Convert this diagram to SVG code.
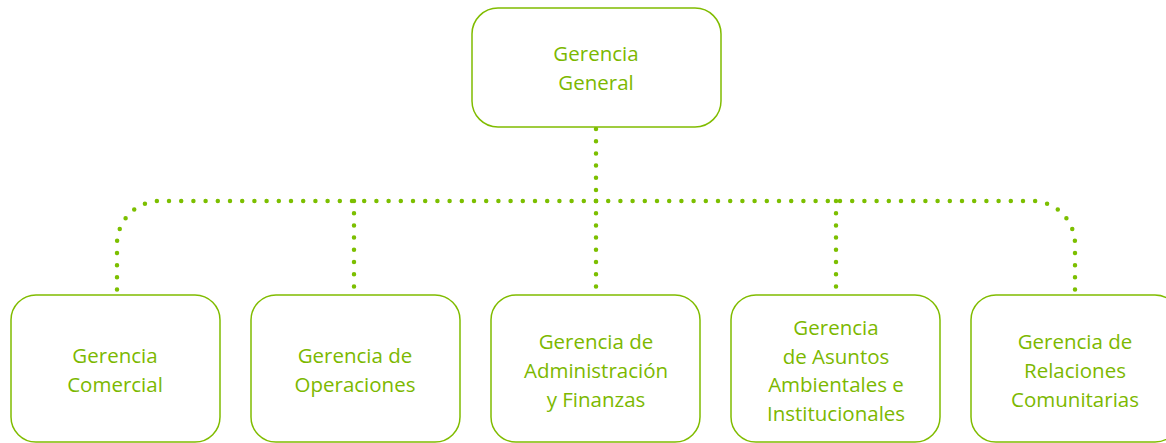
<svg xmlns="http://www.w3.org/2000/svg" width="1166" height="443" viewBox="0 0 1166 443">
<style>
.box{fill:#fff;stroke:#80bc00;stroke-width:1.5}
.t{font-family:"Open Sans","Liberation Sans",sans-serif;font-size:20.5px;fill:#7cb800;text-anchor:middle}
.c{fill:none;stroke:#7cbf00;stroke-width:4.5;stroke-linecap:round;stroke-dasharray:0 12.2}
</style>
<rect width="1166" height="443" fill="#fff"/>
<g id="connectors">
<path class="c" d="M596,129 V201"/>
<path class="c" d="M596,201 H160 A43,43 0 0 0 117,244 V293"/>
<path class="c" d="M596,201 H1032 A43,43 0 0 1 1075,244 V293"/>
<path class="c" d="M354,201 V293"/>
<path class="c" d="M596,201 V293"/>
<path class="c" d="M836,201 V293"/>
</g>
<g id="n0"><rect class="box" x="472" y="8" width="249" height="119" rx="26"/>
<text class="t" x="596" y="61">Gerencia</text><text class="t" x="596" y="90">General</text></g>
<g id="n1"><rect class="box" x="11" y="295" width="209" height="147" rx="25"/>
<text class="t" x="115" y="363">Gerencia</text><text class="t" x="115" y="392">Comercial</text></g>
<g id="n2"><rect class="box" x="251" y="295" width="209" height="147" rx="25"/>
<text class="t" x="355" y="363">Gerencia de</text><text class="t" x="355" y="392">Operaciones</text></g>
<g id="n3"><rect class="box" x="491" y="295" width="209" height="147" rx="25"/>
<text class="t" x="596" y="349">Gerencia de</text><text class="t" x="596" y="378">Administración</text><text class="t" x="596" y="407">y Finanzas</text></g>
<g id="n4"><rect class="box" x="731" y="295" width="209" height="147" rx="25"/>
<text class="t" x="836" y="335">Gerencia</text><text class="t" x="836" y="364">de Asuntos</text><text class="t" x="836" y="392">Ambientales e</text><text class="t" x="836" y="421">Institucionales</text></g>
<g id="n5"><rect class="box" x="971" y="295" width="209" height="147" rx="25"/>
<text class="t" x="1075" y="349">Gerencia de</text><text class="t" x="1075" y="378">Relaciones</text><text class="t" x="1075" y="407">Comunitarias</text></g>
</svg>
